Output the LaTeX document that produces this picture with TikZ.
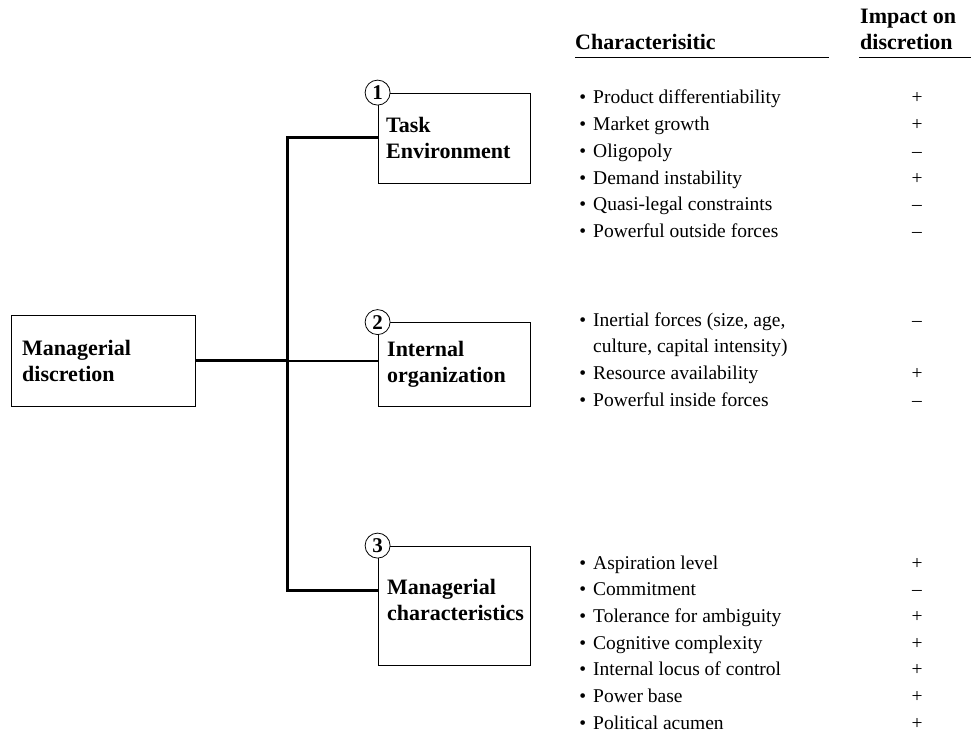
\documentclass[tikz,border=0pt]{standalone}
\usepackage{fontspec}
\setmainfont{Liberation Serif}
\usetikzlibrary{positioning}
\tikzset{
  unitbox/.style={draw, line width=0.8pt, inner sep=0pt},
  boxtext/.style={font=\fontsize{22}{26}\selectfont\bfseries, align=left,
              anchor=base west, inner sep=0pt},
  numcirc/.style={circle, draw, fill=white, line width=0.8pt, inner sep=0pt,
              minimum size=25pt, font=\fontsize{21}{21}\selectfont\bfseries},
  link/.style={line width=3pt},
  item/.style={font=\fontsize{19.5}{26.7}\selectfont, align=left,
              anchor=base west, inner sep=0pt},
  sign/.style={font=\fontsize{19.5}{26.7}\selectfont, anchor=base, inner sep=0pt},
  head/.style={font=\fontsize{22}{26}\selectfont\bfseries, align=left,
              anchor=base west, inner sep=0pt},
  hrule/.style={line width=1pt},
}
\newcommand{\itembul}{\llap{\textbullet\hspace{7pt}}}

\begin{document}
\begin{tikzpicture}[x=1pt,y=-1pt]
  \useasboundingbox (0,0) rectangle (971,735);
  % column heads
  \node[head] (chr) at (575,50) {Characterisitic};
  \node[head] (imp) at (860,50) {Impact on\\discretion};
  \draw[hrule] (575,58) -- (829,58);
  \draw[hrule] (859,58) -- (971,58);
  % boxes
  \node[unitbox,minimum width=184pt,minimum height=91pt] (md) at (103,360.5) {};
  \node[boxtext] (mdt) at (22,381.5) {Managerial\\discretion};
  \node[unitbox,minimum width=152pt,minimum height=90pt] (b1) at (454,138) {};
  \node[boxtext] (b1t) at (386,159) {Task\\Environment};
  \node[unitbox,minimum width=152pt,minimum height=84pt] (b2) at (454,364.5) {};
  \node[boxtext] (b2t) at (387,382) {Internal\\organization};
  \node[unitbox,minimum width=152pt,minimum height=119pt] (b3) at (454,605.5) {};
  \node[boxtext] (b3t) at (387,620) {Managerial\\characteristics};
  \foreach \b/\n in {b1/1,b2/2,b3/3}
    \node[numcirc] (c\n) at (\b.north west) {\n};
  % tree
  \coordinate (hub) at (287,360.5);
  \coordinate (low) at (287,590.7);
  \draw[link] (md.east) -- (hub);
  \draw[link,line width=2pt] (hub) -- (hub -| b2.west);
  \draw[link] (b1.west) -| (low) -- (low -| b3.west);
  % characteristics
  \foreach \txt/\sg [count=\i from 0] in {Product differentiability/+,
      Market growth/+, Oligopoly/\textendash, Demand instability/+,
      Quasi-legal constraints/\textendash, Powerful outside forces/\textendash}{
    \node[item] (te\i) at (593,104+26.67*\i) {\itembul\txt};
    \node[sign] (tes\i) at (917,104+26.67*\i) {\sg};
  }
  \node[item] (io0) at (593,352.7) {\itembul Inertial forces (size, age,\\culture, capital intensity)};
  \node[sign] (ios0) at (917,326) {\textendash};
  \node[item] (io1) at (593,379.3) {\itembul Resource availability};
  \node[sign] (ios1) at (917,379.3) {+};
  \node[item] (io2) at (593,406) {\itembul Powerful inside forces};
  \node[sign] (ios2) at (917,406) {\textendash};
  \foreach \txt/\sg [count=\i from 0] in {Aspiration level/+,
      Commitment/\textendash, Tolerance for ambiguity/+, Cognitive complexity/+,
      Internal locus of control/+, Power base/+, Political acumen/+}{
    \node[item] (mc\i) at (593,569+26.67*\i) {\itembul\txt};
    \node[sign] (mcs\i) at (917,569+26.67*\i) {\sg};
  }
\end{tikzpicture}
\end{document}
